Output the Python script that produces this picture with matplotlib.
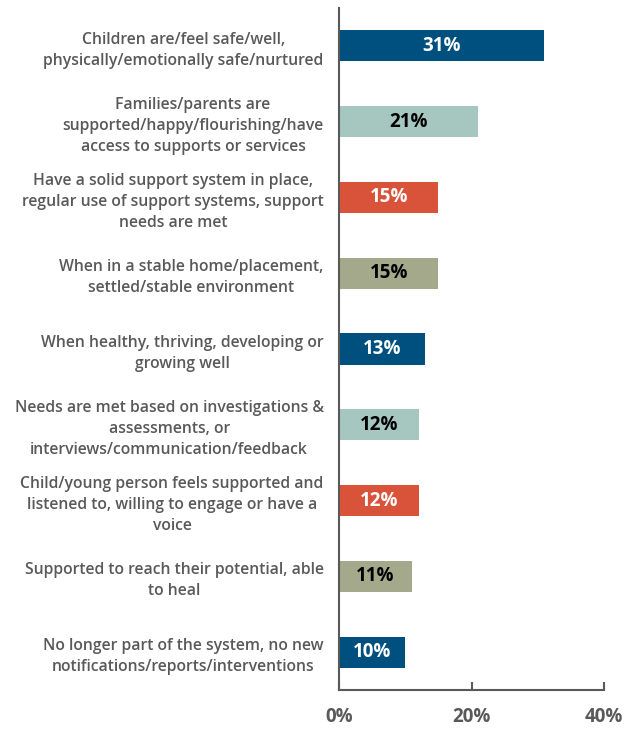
import matplotlib.pyplot as plt

# data
categories = [
    "Children are/feel safe/well,\nphysically/emotionally safe/nurtured",
    "Families/parents are\nsupported/happy/flourishing/have\naccess to supports or services",
    "Have a solid support system in place,\nregular use of support systems, support\nneeds are met",
    "When in a stable home/placement,\nsettled/stable environment",
    "When healthy, thriving, developing or\ngrowing well",
    "Needs are met based on investigations &\nassessments, or\ninterviews/communication/feedback",
    "Child/young person feels supported and\nlistened to, willing to engage or have a\nvoice",
    "Supported to reach their potential, able\nto heal",
    "No longer part of the system, no new\nnotifications/reports/interventions",
]
values = [31, 21, 15, 15, 13, 12, 12, 11, 10]
tick_values = [0, 20, 40]

palette = ['#00507f', '#a5c7bf', '#d9533a', '#a3a98a']
colors = [palette[i % 4] for i in range(len(values))]
text_colors = ['white' if c in ('#00507f', '#d9533a') else 'black' for c in colors]

plt.rcParams['font.family'] = ['Open Sans', 'DejaVu Sans']
gray = '#595959'

fig = plt.figure(figsize=(6.42, 7.29), dpi=100)
ax = fig.add_axes([0.528, 0.0535, 0.413, 0.9355])

y = range(len(values))
bars = ax.barh(y, values, height=0.41, color=colors)
for bar, v, tc in zip(bars, values, text_colors):
    ax.text(v / 2, bar.get_y() + bar.get_height() / 2, f"{v}%", ha='center', va='center',
            color=tc, fontsize=13.5, fontweight='bold')

ax.set_ylim(8.5, -0.5)
ax.set_xlim(0, 40)
ax.set_yticks(list(y))
ax.set_yticklabels(categories, fontsize=11.3, fontweight='semibold', color=gray,
                   multialignment='center', linespacing=1.42)
ax.tick_params(axis='y', length=0, pad=11)
ax.set_xticks(tick_values)
ax.set_xticklabels([f"{t}%" for t in tick_values], fontsize=13.5, fontweight='bold', color=gray)
ax.tick_params(axis='x', direction='in', length=6, width=1.5, color=gray, pad=12)

for s in ['top', 'right']:
    ax.spines[s].set_visible(False)
for s in ['left', 'bottom']:
    ax.spines[s].set_color(gray)
    ax.spines[s].set_linewidth(1.5)

plt.savefig('out.png', dpi=100)
